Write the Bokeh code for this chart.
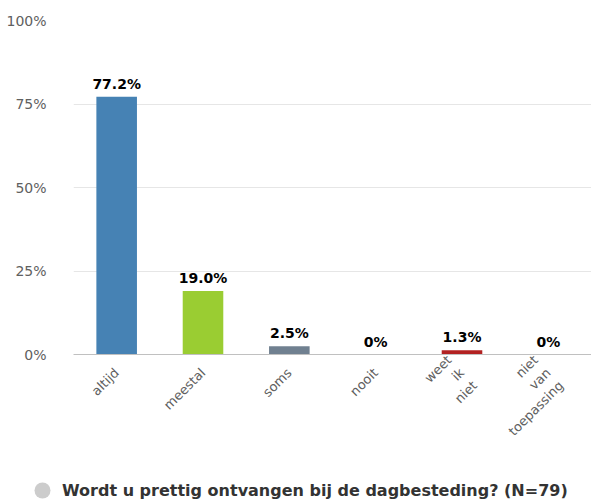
from bokeh.plotting import figure
from bokeh.layouts import column
from bokeh.models import FactorRange, Range1d, FixedTicker, ColumnDataSource, Legend, LegendItem
from bokeh.core.properties import value
from bokeh.embed import file_html
from bokeh.resources import INLINE

categories = ["altijd", "meestal", "soms", "nooit", "weet\nik\nniet", "niet\nvan\ntoepassing"]
values = [77.2, 19.0, 2.5, 0.0, 1.3, 0.0]
value_labels = ["77.2%", "19.0%", "2.5%", "0%", "1.3%", "0%"]
colors = ["#4682B4", "#9ACD32", "#708090", "#E9967A", "#B22222", "#8FBC8F"]
y_ticks = [0, 25, 50, 75, 100]
y_tick_labels = ["0%", "25%", "50%", "75%", "100%"]
legend_text = "Wordt u prettig ontvangen bij de dagbesteding? (N=79)"

FONT = "DejaVu Sans"

src = ColumnDataSource(dict(cat=categories, val=values, lab=value_labels, col=colors))

p = figure(width=591, height=470, x_range=FactorRange(factors=categories, range_padding=0),
           y_range=Range1d(0, 100), output_backend="svg", toolbar_location=None,
           min_border_left=73, min_border_right=0, min_border_top=20, min_border_bottom=116)
p.outline_line_color = None
p.background_fill_color = "white"
p.frame_align = False

p.vbar(x="cat", top="val", width=0.47, color="col", source=src, line_color=None)
p.text(x="cat", y="val", text="lab", source=src, y_offset=-13, text_align="center",
       text_baseline="alphabetic", text_font=value(FONT), text_font_style="bold",
       text_font_size="14px", text_color="#000000")

# axes
p.xgrid.grid_line_color = None
p.ygrid.grid_line_color = "#e6e6e6"
p.ygrid.ticker = FixedTicker(ticks=y_ticks)
p.yaxis.ticker = FixedTicker(ticks=y_ticks)
p.yaxis.major_label_overrides = {t: l for t, l in zip(y_ticks, y_tick_labels)}
p.yaxis.axis_line_color = None
p.yaxis.major_tick_line_color = None
p.yaxis.minor_tick_line_color = None
p.yaxis.major_label_standoff = 21
p.yaxis.major_label_text_font = FONT
p.yaxis.major_label_text_font_size = "14px"
p.yaxis.major_label_text_color = "#606060"

p.xaxis.major_label_orientation = 0.785398
p.xaxis.axis_line_color = "#c0c0c0"
p.xaxis.major_tick_line_color = None
p.xaxis.minor_tick_line_color = None
p.xaxis.major_label_standoff = 10
p.xaxis.major_label_text_font = FONT
p.xaxis.major_label_text_font_size = "13px"
p.xaxis.major_label_text_color = "#606060"

# legend strip
lg = figure(width=591, height=29, output_backend="svg", toolbar_location=None,
            x_axis_location=None, y_axis_location=None,
            min_border_left=0, min_border_right=0, min_border_top=0, min_border_bottom=0)
lg.frame_align = False
lg.outline_line_color = None
lg.xgrid.grid_line_color = None
lg.ygrid.grid_line_color = None
dummy = lg.scatter(x=[float("nan")], y=[float("nan")], size=16, marker="circle",
                   fill_color="#cccccc", line_color=None)
legend = Legend(items=[LegendItem(label=legend_text, renderers=[dummy])],
                location=(22, -11), border_line_color=None, background_fill_alpha=0,
                label_text_font=FONT, label_text_font_style="bold",
                label_text_font_size="16px", label_text_color="#333333",
                glyph_width=40, glyph_height=40, label_height=18, label_standoff=0,
                padding=0, margin=0, spacing=0)
lg.add_layout(legend, "center")

layout = column(p, lg, spacing=0)
open("out.html", "w").write(file_html(layout, INLINE))
